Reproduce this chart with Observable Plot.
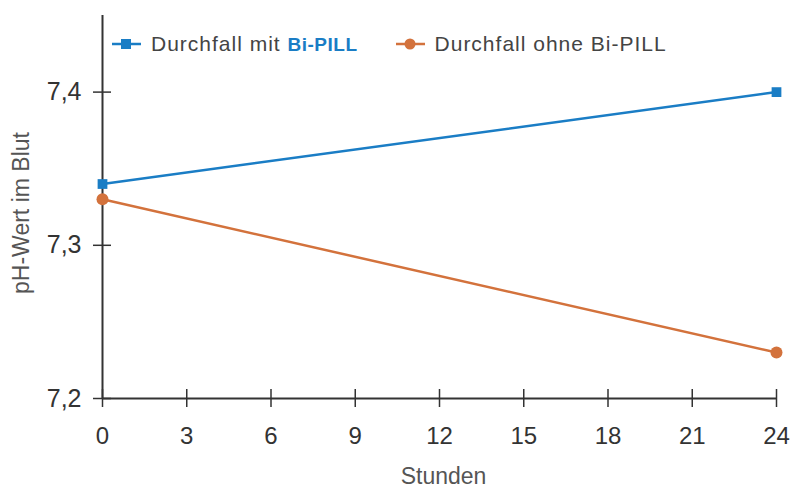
<!DOCTYPE html>
<html><head><meta charset="utf-8">
<script src="https://cdn.jsdelivr.net/npm/d3@7"></script>
<script src="https://cdn.jsdelivr.net/npm/@observablehq/plot@0.6"></script>
<style>
body{margin:0;background:#fff;font-family:"Liberation Sans",Arial,sans-serif;}
#wrap{position:relative;width:793px;height:490px;}
#legend{position:absolute;top:32px;left:112px;display:flex;font-size:21px;color:#444;letter-spacing:1px;}
.item{display:flex;align-items:center;gap:10px;}
.item + .item{margin-left:38px;}
</style></head>
<body><div id="wrap"><div id="chart"></div><div id="legend"></div></div>
<script>
const hours = [0, 24];
const withBiPill = [7.34, 7.40];
const withoutBiPill = [7.33, 7.23];
const xTicks = [0, 3, 6, 9, 12, 15, 18, 21, 24];
const yTicks = [7.2, 7.3, 7.4];
const seriesNames = ["Durchfall mit Bi-PILL", "Durchfall ohne Bi-PILL"];
const colors = ["#1a7dc5", "#d3723c"];

const data = [
  ...hours.map((h, i) => ({x: h, y: withBiPill[i], s: seriesNames[0]})),
  ...hours.map((h, i) => ({x: h, y: withoutBiPill[i], s: seriesNames[1]}))
];
const fmt = d => d.toFixed(1).replace(".", ",");
const axisColor = "#333";

const chart = Plot.plot({
  width: 793, height: 490,
  marginLeft: 102, marginRight: 17, marginTop: 15, marginBottom: 92,
  style: {fontFamily: "Liberation Sans, Arial, sans-serif", background: "#fff"},
  x: {domain: [0, 24]},
  y: {domain: [7.2, 7.45]},
  color: {domain: seriesNames, range: colors},
  marks: [
    Plot.axisX({ticks: xTicks, tickSize: 9, text: null, label: null, stroke: axisColor, strokeWidth: 1.5}),
    Plot.axisX({ticks: xTicks, tickSize: -9, text: null, label: null, stroke: axisColor, strokeWidth: 1.5}),
    Plot.axisX({ticks: xTicks, tickSize: 0, tickPadding: 28, tickFormat: d => d, fontSize: 24, fill: "#333",
      label: "Stunden", labelAnchor: "center", labelArrow: "none", labelOffset: 85}),
    Plot.axisY({ticks: yTicks, tickSize: 9, text: null, label: null, stroke: axisColor, strokeWidth: 1.5}),
    Plot.axisY({ticks: yTicks, tickSize: -9, text: null, label: null, stroke: axisColor, strokeWidth: 1.5}),
    Plot.axisY({ticks: yTicks, tickSize: 0, tickPadding: 21, tickFormat: fmt, fontSize: 25, fill: "#333",
      label: "pH-Wert im Blut", labelAnchor: "center", labelArrow: "none", labelOffset: 90}),
    Plot.ruleX([0], {stroke: axisColor, strokeWidth: 2}),
    Plot.ruleY([7.2], {stroke: axisColor, strokeWidth: 2}),
    Plot.line(data, {x: "x", y: "y", stroke: "s", strokeWidth: 2.5}),
    Plot.dot(data.filter(d => d.s === seriesNames[0]), {x: "x", y: "y", fill: colors[0], symbol: "square", r: 5.5}),
    Plot.dot(data.filter(d => d.s === seriesNames[1]), {x: "x", y: "y", fill: colors[1], symbol: "circle", r: 6})
  ]
});
chart.querySelectorAll("g[aria-label='x-axis label'] text, g[aria-label='y-axis label'] text").forEach(t => {
  t.setAttribute("font-size", "23"); t.style.fontSize = "23px"; t.setAttribute("fill", "#555");
});
const yl = chart.querySelector("g[aria-label='y-axis label']");
if (yl) yl.setAttribute("transform", (yl.getAttribute("transform") || "") + " translate(0,6)");
const xl = chart.querySelector("g[aria-label='x-axis label']");
if (xl) xl.setAttribute("transform", (xl.getAttribute("transform") || "") + " translate(4,0)");
document.getElementById("chart").appendChild(chart);

const legend = document.getElementById("legend");
const symbols = [
  `<rect x="9" y="4" width="10" height="10" fill="${colors[0]}"/>`,
  `<circle cx="14" cy="9" r="5.5" fill="${colors[1]}"/>`
];
seriesNames.forEach((name, i) => {
  const item = document.createElement("div");
  item.className = "item";
  const label = i === 0
    ? `Durchfall mit <b style="color:${colors[0]};font-size:19px;letter-spacing:0.5px">Bi-PILL</b>`
    : name;
  item.innerHTML = `<svg width="29" height="18"><line x1="0" x2="29" y1="9" y2="9" stroke="${colors[i]}" stroke-width="2.5"/>${symbols[i]}</svg><span>${label}</span>`;
  legend.appendChild(item);
});
</script></body></html>
